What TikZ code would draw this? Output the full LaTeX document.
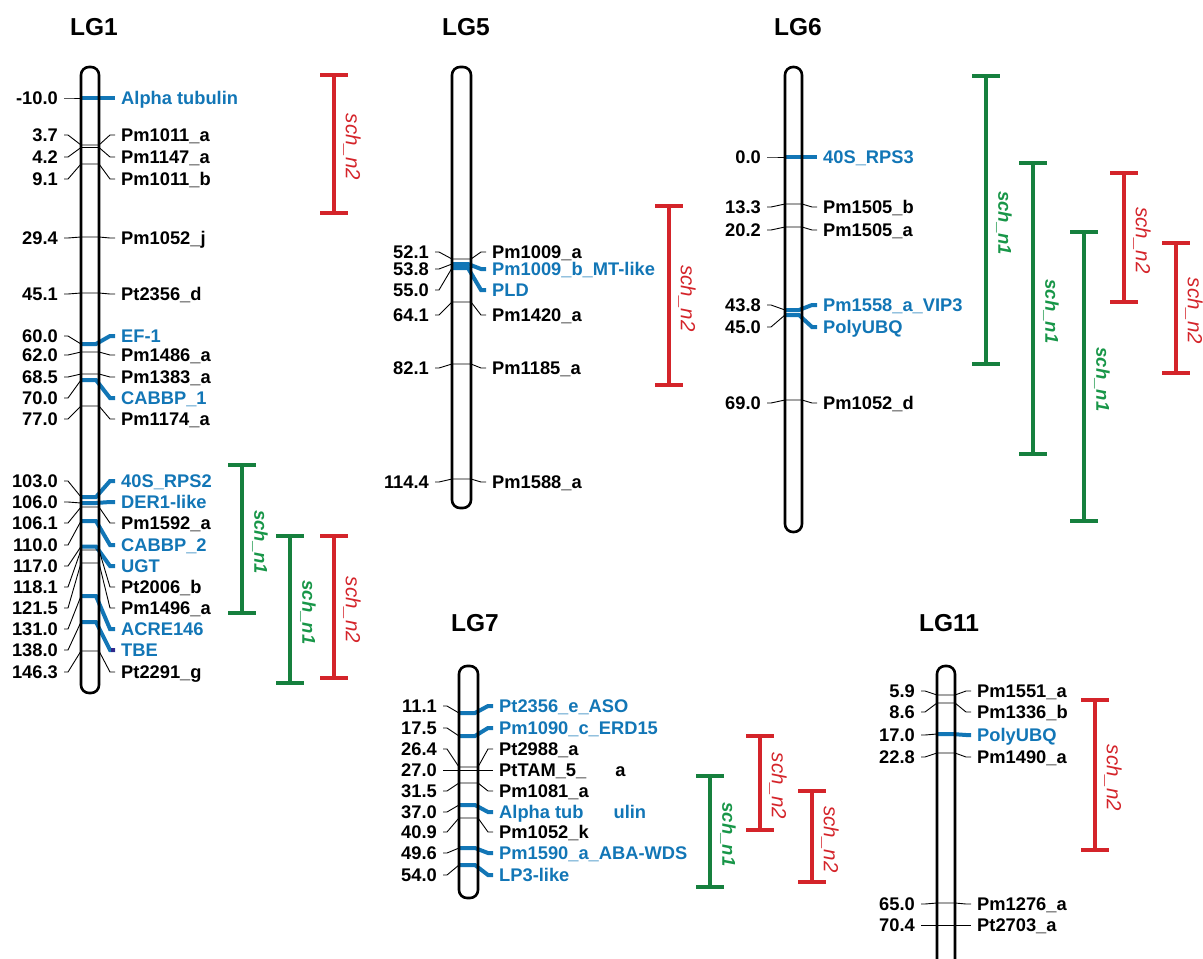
\documentclass[tikz,border=0pt]{standalone}
\usepackage{fontspec}
\setmainfont{Liberation Sans}
\usetikzlibrary{calc}
\definecolor{genblue}{RGB}{18,118,182}
\definecolor{qgreen}{RGB}{22,128,62}
\definecolor{qgreentext}{RGB}{24,150,72}
\definecolor{qred}{RGB}{212,36,42}
\definecolor{tbenavy}{RGB}{50,40,140}
\newcommand\labfont{\fontsize{18.3}{20}\selectfont\bfseries}
\newcommand\ttlfont{\fontsize{24.5}{28}\selectfont\bfseries}
\newcommand\schgfont{\fontsize{18.5}{22}\selectfont\bfseries\itshape}
\newcommand\schrfont{\fontsize{20.5}{22}\selectfont\itshape}
\tikzset{
  chrom/.style={line width=2.6pt, draw=black, rounded corners=8pt},
  tick/.style={line width=0.9pt, draw=black},
  gene/.style={line width=4pt, draw=genblue},
  numlab/.style={font=\labfont, anchor=east, inner sep=0pt, text height=12.9pt, text depth=0pt},
  namelab/.style={font=\labfont, anchor=west, inner sep=0pt, text height=12.9pt, text depth=0pt},
  lgtitle/.style={font=\ttlfont, inner sep=0pt},
  qbar/.style={line width=3.3pt},
  qlab/.style={rotate=-90, inner sep=0pt},
  qgreenlab/.style={font=\schgfont, text=qgreentext},
  qredlab/.style={font=\schrfont, text=qred}
}
% #1 name, #2 label y, #3 position on chromosome, #4 number, #5 marker
\newcommand\lgmark[5]{%
  \node[numlab] (#1n) at (\lgN,#2) {#4};
  \node[namelab] (#1m) at (\lgM,#2) {#5};
  \draw[tick] ([xshift=6pt]#1n.east) -- ++(4,0) -- (\lgL,#3) -- (\lgR,#3)
     -- ([xshift=-11pt]#1m.west) -- ([xshift=-6pt]#1m.west);
}
\newcommand\lggene[5]{%
  \node[numlab] (#1n) at (\lgN,#2) {#4};
  \node[namelab,text=genblue] (#1m) at (\lgM,#2) {#5};
  \draw[tick] ([xshift=6pt]#1n.east) -- ++(4,0) -- (\lgL,#3);
  \draw[gene] (\lgL,#3) -- (\lgR-3,#3) -- ([xshift=-11pt]#1m.west) -- ([xshift=-6pt]#1m.west);
}
% #1 name, #2 colour, #3 x, #4 top, #5 bottom, #6 label
\newcommand\qtl[6]{%
  \coordinate (#1t) at (#3,#4);
  \coordinate (#1b) at (#3,#5);
  \draw[qbar,draw=#2] (#1t) -- (#1b);
  \draw[qbar,draw=#2] ([xshift=-14pt]#1t) -- ([xshift=14pt]#1t);
  \draw[qbar,draw=#2] ([xshift=-14pt]#1b) -- ([xshift=14pt]#1b);
  \node[qlab,#2lab] (#1l) at ($(#1t)!0.5!(#1b)+(18,3)$) {#6};
}
\begin{document}
\begin{tikzpicture}[x=1pt,y=-1pt]
\useasboundingbox (0,0) rectangle (1203,959);

% ---------- LG1 ----------
\node[lgtitle] (t1) at (94,27) {LG1};
\def\lgL{81}\def\lgR{99}\def\lgN{58}\def\lgM{121}
\lggene{a01}{98}{98}{-10.0}{Alpha tubulin}
\lgmark{a02}{135}{145}{3.7}{Pm1011\_a}
\lgmark{a03}{157}{147.5}{4.2}{Pm1147\_a}
\lgmark{a04}{179}{164}{9.1}{Pm1011\_b}
\lgmark{a05}{238}{237}{29.4}{Pm1052\_j}
\lgmark{a06}{294}{293}{45.1}{Pt2356\_d}
\lggene{a07}{336}{344}{60.0}{EF-1}
\lgmark{a08}{355}{352}{62.0}{Pm1486\_a}
\lgmark{a09}{377}{374}{68.5}{Pm1383\_a}
\lggene{a10}{398}{380}{70.0}{CABBP\_1}
\lgmark{a11}{419}{406}{77.0}{Pm1174\_a}
\lggene{a12}{481}{497}{103.0}{40S\_RPS2}
\lggene{a13}{502}{503}{106.0}{DER1-like}
\lgmark{a14}{523}{507}{106.1}{Pm1592\_a}
\lggene{a15}{545}{521}{110.0}{CABBP\_2}
\lggene{a16}{566}{546.5}{117.0}{UGT}
\lgmark{a17}{587}{550}{118.1}{Pt2006\_b}
\lgmark{a18}{608}{563}{121.5}{Pm1496\_a}
\lggene{a19}{629}{596}{131.0}{ACRE146}
\lggene{a20}{650}{622}{138.0}{TBE}
\draw[line width=4pt, draw=tbenavy] ([xshift=-10pt]a20m.west) -- ([xshift=-6pt]a20m.west);
\lgmark{a21}{672}{651}{146.3}{Pt2291\_g}
\draw[chrom] (81,67) rectangle (99,693);
\qtl{q1}{qred}{334}{75}{213}{sch\_n2}
\qtl{q2}{qgreen}{242}{465}{613}{sch\_n1}
\qtl{q3}{qgreen}{290}{536}{683}{sch\_n1}
\qtl{q4}{qred}{334}{536}{678}{sch\_n2}

% ---------- LG5 ----------
\node[lgtitle] (t5) at (466,27) {LG5};
\def\lgL{452}\def\lgR{471}\def\lgN{429}\def\lgM{492}
\lgmark{b1}{252}{259}{52.1}{Pm1009\_a}
\lggene{b2}{269}{264}{53.8}{Pm1009\_b\_MT-like}
\lggene{b3}{290}{268}{55.0}{PLD}
\lgmark{b4}{315}{302}{64.1}{Pm1420\_a}
\lgmark{b5}{368}{364}{82.1}{Pm1185\_a}
\lgmark{b6}{482}{479}{114.4}{Pm1588\_a}
\draw[chrom] (452,67) rectangle (471,508);
\qtl{q5}{qred}{669}{206}{385}{sch\_n2}

% ---------- LG6 ----------
\node[lgtitle] (t6) at (798,27) {LG6};
\def\lgL{785}\def\lgR{802}\def\lgN{761}\def\lgM{823}
\lggene{c1}{157}{157}{0.0}{40S\_RPS3}
\lgmark{c2}{207}{204}{13.3}{Pm1505\_b}
\lgmark{c3}{230}{227}{20.2}{Pm1505\_a}
\lggene{c4}{305}{310}{43.8}{Pm1558\_a\_VIP3}
\lggene{c5}{327}{315}{45.0}{PolyUBQ}
\lgmark{c6}{403}{400}{69.0}{Pm1052\_d}
\draw[chrom] (785,67) rectangle (802,532);
\qtl{q6}{qgreen}{986}{76}{364}{sch\_n1}
\qtl{q7}{qgreen}{1033}{163}{454}{sch\_n1}
\qtl{q8}{qgreen}{1084}{232}{521}{sch\_n1}
\qtl{q9}{qred}{1124}{173}{302}{sch\_n2}
\qtl{q10}{qred}{1176}{243}{373}{sch\_n2}

% ---------- LG7 ----------
\node[lgtitle] (t7) at (475,623) {LG7};
\def\lgL{459}\def\lgR{478}\def\lgN{437}\def\lgM{499}
\lggene{d1}{706}{713}{11.1}{Pt2356\_e\_ASO}
\lggene{d2}{728}{736}{17.5}{Pm1090\_c\_ERD15}
\lgmark{d3}{749}{767}{26.4}{Pt2988\_a}
\lgmark{d4}{770}{770}{27.0}{PtTAM\_5\_\hspace{29pt}a}
\lgmark{d5}{791}{783}{31.5}{Pm1081\_a}
\lggene{d6}{812}{805}{37.0}{Alpha tub\hspace{30pt}ulin}
\lgmark{d7}{832}{818}{40.9}{Pm1052\_k}
\lggene{d8}{853}{848}{49.6}{Pm1590\_a\_ABA-WDS}
\lggene{d9}{875}{865}{54.0}{LP3-like}
\draw[chrom] (459,666) rectangle (478,898);
\qtl{q11}{qgreen}{710}{776}{887}{sch\_n1}
\qtl{q12}{qred}{760}{736}{830}{sch\_n2}
\qtl{q13}{qred}{812}{791}{882}{sch\_n2}

% ---------- LG11 ----------
\node[lgtitle] (t11) at (949,623) {LG11};
\def\lgL{937}\def\lgR{955}\def\lgN{915}\def\lgM{977}
\lgmark{e1}{691}{695}{5.9}{Pm1551\_a}
\lgmark{e2}{712}{703}{8.6}{Pm1336\_b}
\lggene{e3}{735}{734}{17.0}{PolyUBQ}
\lgmark{e4}{757}{753}{22.8}{Pm1490\_a}
\lgmark{e5}{904}{903}{65.0}{Pm1276\_a}
\lgmark{e6}{925}{925}{70.4}{Pt2703\_a}
\draw[chrom] (937,962) -- (937,666) -- (955,666) -- (955,962);
\qtl{q14}{qred}{1095}{700}{850}{sch\_n2}
\end{tikzpicture}
\end{document}
